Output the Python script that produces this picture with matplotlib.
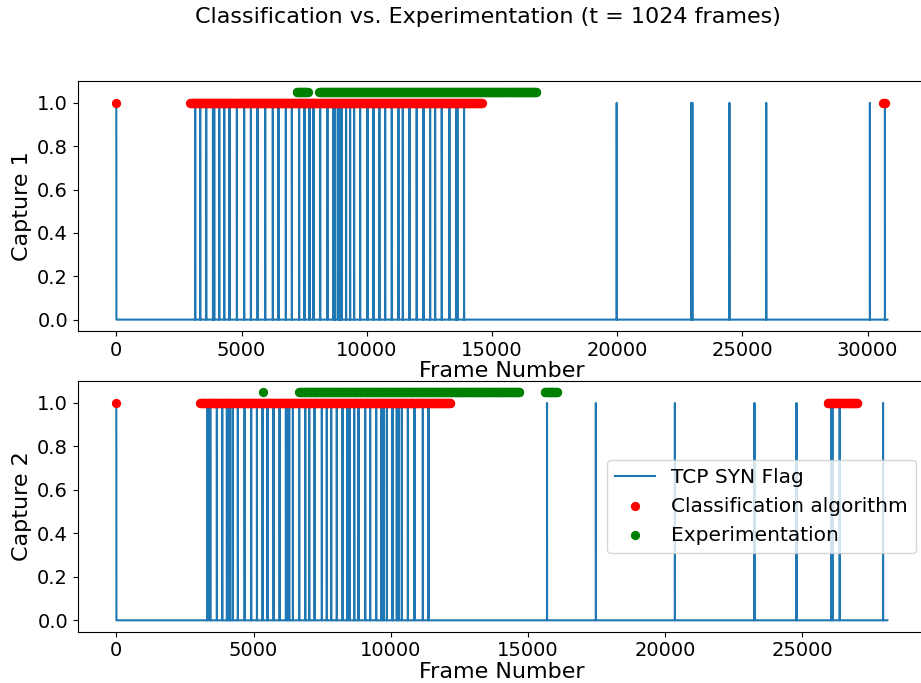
"""Classification vs. experimentation: TCP SYN flags for two captures."""

import matplotlib

matplotlib.use("Agg")
import matplotlib.pyplot as plt  # noqa: E402
import numpy as np  # noqa: E402

# --- capture 1 ---------------------------------------------------------------
cap1_length = 30790
cap1_syn = [0, 3150, 3350, 3590, 3860, 3910, 4110, 4310, 4520, 4815, 5105,
            5375, 5640, 5945, 6250, 6475, 6770, 7010, 7300, 7515, 7715, 7875,
            8140, 8430, 8670, 8740, 8870, 8940, 9005, 9175, 9335, 9495, 9735,
            10030, 10270, 10505, 10735, 11000, 11265, 11440, 11705, 11995,
            12265, 12530, 12730, 12995, 13300, 13565, 13620, 13885,
            19980, 22950, 23000, 24480, 25950, 30090, 30690]
cap1_classified = [(0, 0), (2960, 14600), (30630, 30700)]
cap1_experiment = [(7200, 7650), (8100, 16760)]

# --- capture 2 ---------------------------------------------------------------
cap2_length = 28100
cap2_syn = [0, 3325, 3425, 3665, 3860, 4030, 4090, 4150, 4250, 4430, 4675,
            4915, 5125, 5330, 5510, 5730, 5950, 6180, 6240, 6300, 6435, 6665,
            6885, 7030, 7225, 7490, 7670, 7830, 8035, 8245, 8425, 8500, 8670,
            8825, 9070, 9250, 9470, 9650, 9735, 9860, 10065, 10220, 10285,
            10405, 10625, 10865, 11170, 11375,
            15695, 17475, 20355, 23255, 24785, 26060, 26095, 26360, 27940]
cap2_classified = [(0, 0), (3050, 12175), (25925, 27015)]
cap2_experiment = [(5340, 5340), (6665, 14700), (15610, 16080)]

STEP = 20  # one marker per STEP frames inside a flagged window


def syn_series(length, syn):
    y = np.zeros(length)
    y[syn] = 1
    return np.arange(length), y


def window_points(windows):
    return np.concatenate([np.arange(a, b + 1, STEP) for a, b in windows])


fig = plt.figure(figsize=(9.21, 6.83), dpi=100)
ax1 = fig.add_axes([0.0844, 0.5154, 0.921, 0.3665])
ax2 = fig.add_axes([0.0844, 0.0751, 0.921, 0.3675])

panels = [
    (ax1, cap1_length, cap1_syn, cap1_classified, cap1_experiment, "Capture 1"),
    (ax2, cap2_length, cap2_syn, cap2_classified, cap2_experiment, "Capture 2"),
]
for ax, length, syn, classified, experiment, name in panels:
    x, y = syn_series(length, syn)
    ax.plot(x, y, color="#1f77b4", lw=1.5, label="TCP SYN Flag")
    red = window_points(classified)
    green = window_points(experiment)
    ax.scatter(red, np.full(len(red), 1.0), s=32, color="red",
               label="Classification algorithm", zorder=3)
    ax.scatter(green, np.full(len(green), 1.05), s=32, color="green",
               label="Experimentation", zorder=3)
    ax.set_ylabel(name, fontsize=16)
    ax.set_xlabel("Frame Number", fontsize=16, labelpad=1)
    ax.tick_params(labelsize=14)

ax2.legend(loc="center right", fontsize=14.5)
fig.suptitle("Classification vs. Experimentation (t = 1024 frames)",
             x=0.53, y=0.975, va="center", fontsize=16)

fig.savefig("out.png", dpi=100)
